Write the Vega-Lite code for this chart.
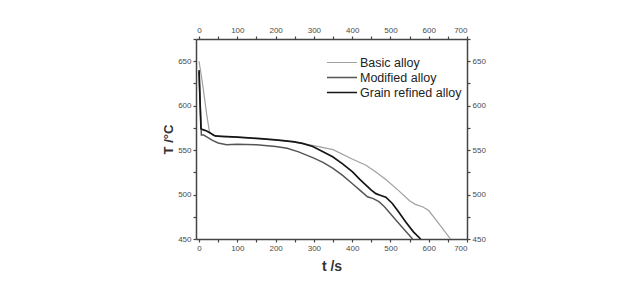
{
  "$schema": "https://vega.github.io/schema/vega-lite/v6.json",
  "width": 271,
  "height": 200,
  "autosize": {"type": "none"},
  "padding": {"left": 196, "top": 39, "right": 163, "bottom": 51},
  "background": "white",
  "config": {
    "view": {"stroke": null},
    "font": "Liberation Sans",
    "axis": {
      "grid": false,
      "domainColor": "#444",
      "domainWidth": 1.5,
      "tickColor": "#444",
      "tickSize": 3,
      "tickWidth": 1.2,
      "labelFontSize": 8,
      "labelColor": "#4a4a4a",
      "labelFont": "Liberation Sans",
      "titleFont": "Liberation Sans",
      "titleFontWeight": "bold",
      "titleColor": "#333"
    },
    "legend": {
      "title": null, "orient": "none", "legendX": 130, "legendY": 16,
      "symbolType": "stroke", "symbolSize": 900, "labelFontSize": 12.5, "labelColor": "#222",
      "labelFont": "Liberation Sans", "rowPadding": 0, "labelOffset": 2, "clipHeight": 15
    }
  },
  "data": {
    "values": [
      {"s": "Basic alloy", "t": 0, "T": 650},
      {"s": "Basic alloy", "t": 10, "T": 622},
      {"s": "Basic alloy", "t": 20, "T": 590},
      {"s": "Basic alloy", "t": 27, "T": 571},
      {"s": "Basic alloy", "t": 35, "T": 567},
      {"s": "Basic alloy", "t": 45, "T": 565.5},
      {"s": "Basic alloy", "t": 100, "T": 564.5},
      {"s": "Basic alloy", "t": 150, "T": 563},
      {"s": "Basic alloy", "t": 200, "T": 561.5},
      {"s": "Basic alloy", "t": 250, "T": 559},
      {"s": "Basic alloy", "t": 300, "T": 555},
      {"s": "Basic alloy", "t": 350, "T": 550.5},
      {"s": "Basic alloy", "t": 400, "T": 540},
      {"s": "Basic alloy", "t": 436, "T": 533},
      {"s": "Basic alloy", "t": 460, "T": 526},
      {"s": "Basic alloy", "t": 488, "T": 517},
      {"s": "Basic alloy", "t": 520, "T": 505},
      {"s": "Basic alloy", "t": 550, "T": 493},
      {"s": "Basic alloy", "t": 565, "T": 489},
      {"s": "Basic alloy", "t": 585, "T": 486},
      {"s": "Basic alloy", "t": 600, "T": 482},
      {"s": "Basic alloy", "t": 627, "T": 467},
      {"s": "Basic alloy", "t": 657, "T": 450},
      {"s": "Modified alloy", "t": 0, "T": 638},
      {"s": "Modified alloy", "t": 3, "T": 600},
      {"s": "Modified alloy", "t": 6, "T": 567},
      {"s": "Modified alloy", "t": 12, "T": 567},
      {"s": "Modified alloy", "t": 20, "T": 565},
      {"s": "Modified alloy", "t": 35, "T": 561},
      {"s": "Modified alloy", "t": 50, "T": 558},
      {"s": "Modified alloy", "t": 72, "T": 556},
      {"s": "Modified alloy", "t": 100, "T": 556.5},
      {"s": "Modified alloy", "t": 150, "T": 556},
      {"s": "Modified alloy", "t": 200, "T": 554},
      {"s": "Modified alloy", "t": 230, "T": 552},
      {"s": "Modified alloy", "t": 260, "T": 548},
      {"s": "Modified alloy", "t": 300, "T": 541},
      {"s": "Modified alloy", "t": 325, "T": 536},
      {"s": "Modified alloy", "t": 350, "T": 529.5},
      {"s": "Modified alloy", "t": 375, "T": 521.5},
      {"s": "Modified alloy", "t": 400, "T": 512.5},
      {"s": "Modified alloy", "t": 420, "T": 505},
      {"s": "Modified alloy", "t": 440, "T": 497.5},
      {"s": "Modified alloy", "t": 455, "T": 495.5},
      {"s": "Modified alloy", "t": 470, "T": 492},
      {"s": "Modified alloy", "t": 485, "T": 486},
      {"s": "Modified alloy", "t": 500, "T": 478.5},
      {"s": "Modified alloy", "t": 530, "T": 463.5},
      {"s": "Modified alloy", "t": 558, "T": 450},
      {"s": "Grain refined alloy", "t": 0, "T": 640},
      {"s": "Grain refined alloy", "t": 3, "T": 600},
      {"s": "Grain refined alloy", "t": 5, "T": 574},
      {"s": "Grain refined alloy", "t": 10, "T": 573},
      {"s": "Grain refined alloy", "t": 20, "T": 571.5},
      {"s": "Grain refined alloy", "t": 30, "T": 569},
      {"s": "Grain refined alloy", "t": 42, "T": 566},
      {"s": "Grain refined alloy", "t": 60, "T": 565.5},
      {"s": "Grain refined alloy", "t": 100, "T": 564.5},
      {"s": "Grain refined alloy", "t": 160, "T": 563},
      {"s": "Grain refined alloy", "t": 200, "T": 561.5},
      {"s": "Grain refined alloy", "t": 245, "T": 559.5},
      {"s": "Grain refined alloy", "t": 270, "T": 557.5},
      {"s": "Grain refined alloy", "t": 297, "T": 554},
      {"s": "Grain refined alloy", "t": 320, "T": 549},
      {"s": "Grain refined alloy", "t": 349, "T": 542.5},
      {"s": "Grain refined alloy", "t": 375, "T": 534.5},
      {"s": "Grain refined alloy", "t": 401, "T": 525.5},
      {"s": "Grain refined alloy", "t": 420, "T": 517},
      {"s": "Grain refined alloy", "t": 436, "T": 510.5},
      {"s": "Grain refined alloy", "t": 450, "T": 505},
      {"s": "Grain refined alloy", "t": 462, "T": 501},
      {"s": "Grain refined alloy", "t": 475, "T": 499},
      {"s": "Grain refined alloy", "t": 488, "T": 497},
      {"s": "Grain refined alloy", "t": 505, "T": 490},
      {"s": "Grain refined alloy", "t": 522, "T": 480},
      {"s": "Grain refined alloy", "t": 540, "T": 469},
      {"s": "Grain refined alloy", "t": 560, "T": 458},
      {"s": "Grain refined alloy", "t": 579, "T": 450}
    ]
  },
  "layer": [
    {
      "mark": {"type": "line", "clip": true},
      "encoding": {
        "x": {
          "field": "t", "type": "quantitative",
          "scale": {"domain": [-8, 700], "nice": false, "zero": false},
          "axis": {
            "orient": "bottom", "title": "t /s", "titleFontSize": 14, "titlePadding": 7,
            "values": [0, 50, 100, 150, 200, 250, 300, 350, 400, 450, 500, 550, 600, 650, 700],
            "labelExpr": "datum.value % 100 === 0 ? datum.label : ''",
            "labelPadding": 2
          }
        },
        "y": {
          "field": "T", "type": "quantitative",
          "scale": {"domain": [450, 675], "nice": false, "zero": false},
          "axis": {
            "orient": "left", "title": "T /°C", "titleFontSize": 13, "titlePadding": 2,
            "values": [450, 475, 500, 525, 550, 575, 600, 625, 650, 675],
            "labelExpr": "datum.value % 50 === 0 ? datum.label : ''",
            "labelPadding": 2
          }
        },
        "color": {
          "field": "s", "type": "nominal",
          "scale": {"domain": ["Basic alloy", "Modified alloy", "Grain refined alloy"], "range": ["#a0a0a0", "#555555", "#151515"]}
        },
        "strokeWidth": {
          "field": "s", "type": "nominal",
          "scale": {"domain": ["Basic alloy", "Modified alloy", "Grain refined alloy"], "range": [1.2, 1.7, 2.6]}
        },
        "order": {"field": "t", "type": "quantitative"}
      }
    },
    {
      "mark": {"type": "line", "opacity": 0},
      "encoding": {
        "x": {
          "field": "t", "type": "quantitative",
          "axis": {
            "orient": "top", "title": null,
            "values": [0, 50, 100, 150, 200, 250, 300, 350, 400, 450, 500, 550, 600, 650, 700],
            "labelExpr": "datum.value % 100 === 0 ? datum.label : ''",
            "labelPadding": 2
          }
        },
        "y": {
          "field": "T", "type": "quantitative",
          "axis": {
            "orient": "right", "title": null,
            "values": [450, 475, 500, 525, 550, 575, 600, 625, 650, 675],
            "labelExpr": "datum.value % 50 === 0 ? datum.label : ''",
            "labelPadding": 2
          }
        },
        "detail": {"field": "s", "type": "nominal"}
      }
    }
  ],
  "resolve": {"axis": {"x": "independent", "y": "independent"}}
}
